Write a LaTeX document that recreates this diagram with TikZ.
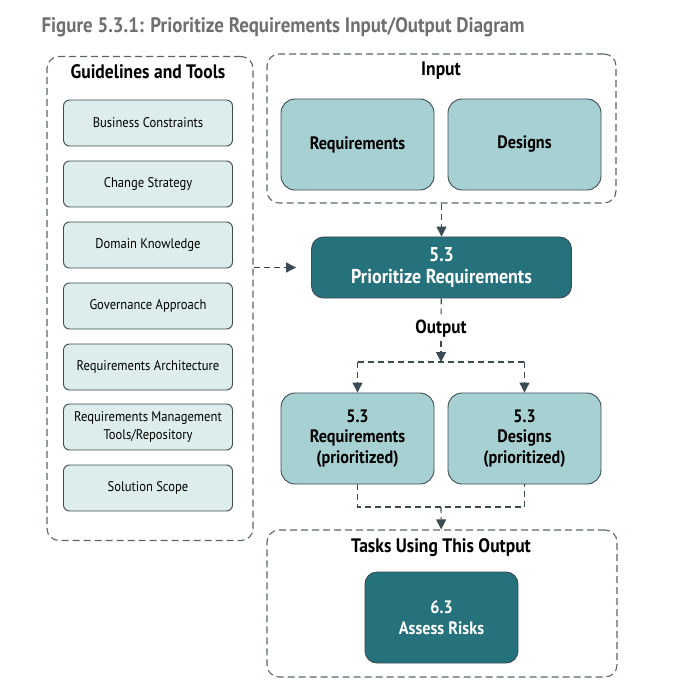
\documentclass[tikz,border=0pt]{standalone}
\usepackage{fontspec}
\setmainfont{PT Sans}[FakeStretch=0.9]
\usetikzlibrary{arrows.meta,positioning}
\definecolor{tool}{HTML}{DCEDEC}
\definecolor{io}{HTML}{A7D0D3}
\definecolor{task}{HTML}{26727C}
\definecolor{edge}{HTML}{3B4B52}
\definecolor{caption}{HTML}{6E6F71}

\tikzset{
  group/.style={draw=edge!85, line width=1.1pt, dash pattern=on 7pt off 4pt, rounded corners=12pt},
  grouptitle/.style={font=\bfseries\fontsize{19.5}{22}\selectfont, text=black},
  toolbox/.style={draw=edge, fill=tool, line width=0.9pt, rounded corners=6pt, minimum width=169pt, minimum height=46pt, align=center, font=\fontsize{14}{18}\selectfont},
  iobox/.style={draw=edge, fill=io, line width=0.9pt, rounded corners=14pt, minimum width=153pt, minimum height=91pt, align=center, font=\bfseries\fontsize{18}{20.5}\selectfont},
  taskbox/.style={draw=edge, fill=task, text=white, line width=0.9pt, rounded corners=12pt, align=center, font=\bfseries\fontsize{18}{21}\selectfont},
  flow/.style={draw=edge, line width=1.1pt, dash pattern=on 6pt off 4pt},
  tip/.style={-{Triangle[length=10pt,width=10pt]}, edge}
}

\begin{document}
\begin{tikzpicture}[x=1pt,y=-1pt]
  \useasboundingbox (0,0) rectangle (697,700);

  % caption
  \node[anchor=west, text=caption, font=\bfseries\fontsize{21}{24}\selectfont] (caption) at (38,27) {Figure 5.3.1: Prioritize Requirements Input/Output Diagram};

  % guidelines and tools
  \node[group, minimum width=206pt, minimum height=484pt] (guide) at (150,298.5) {};
  \node[grouptitle] (guidetitle) at (148,72) {Guidelines and Tools};
  \node[toolbox] (bc) at (148,123) {Business Constraints};
  \node[toolbox] (cs) at (148,184) {Change Strategy};
  \node[toolbox] (dk) at (148,245) {Domain Knowledge};
  \node[toolbox] (ga) at (148,306) {Governance Approach};
  \node[toolbox] (ra) at (148,367) {Requirements Architecture};
  \node[toolbox] (rm) at (148,427) {Requirements Management\\Tools/Repository};
  \node[toolbox] (ss) at (148,488) {Solution Scope};

  % input
  \node[group, minimum width=349pt, minimum height=149pt] (input) at (441.5,128.5) {};
  \node[grouptitle] (inputtitle) at (441,71) {Input};
  \node[iobox] (reqin) at (357.5,144.5) {Requirements};
  \node[iobox] (desin) at (524.5,144.5) {Designs};

  % task
  \node[taskbox, minimum width=260pt, minimum height=61pt, font=\bfseries\fontsize{20}{22}\selectfont] (main) at (441.5,267.5) {5.3\\Prioritize Requirements};

  % output
  \node[font=\bfseries\fontsize{19}{22}\selectfont] (outlabel) at (441,329) {Output};
  \coordinate (split) at (441,362);
  \coordinate (splitl) at (357.5,362);
  \coordinate (splitr) at (524.5,362);
  \node[iobox] (reqout) at (357.5,438.5) {5.3\\Requirements\\(prioritized)};
  \node[iobox] (desout) at (524.5,438.5) {5.3\\Designs\\(prioritized)};
  \coordinate (join) at (441,507);

  % tasks using this output
  \node[group, minimum width=350pt, minimum height=147pt] (tasks) at (442,603.5) {};
  \node[grouptitle] (taskstitle) at (441,548) {Tasks Using This Output};
  \node[taskbox, minimum width=153pt, minimum height=91pt] (risk) at (441.5,617.5) {6.3\\Assess Risks};

  % connectors
  \draw[flow, tip] (input) -- (main);
  \draw[flow, tip, shorten >=15pt] (guide.east |- main.west) -- (main.west);
  \draw[flow] (main) -- (outlabel);
  \draw[flow, tip] (outlabel) -- (split);
  \draw[flow] (splitl) -- (splitr);
  \draw[flow, tip] (splitl) -- (reqout);
  \draw[flow, tip] (splitr) -- (desout);
  \draw[flow] (reqout) |- (join) -| (desout);
  \draw[flow, tip] (join) -- (tasks);
\end{tikzpicture}
\end{document}
